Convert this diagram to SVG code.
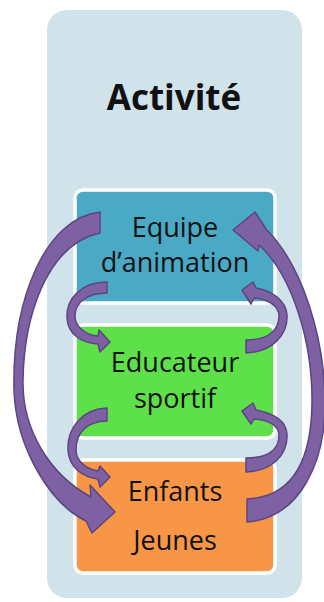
<svg xmlns="http://www.w3.org/2000/svg" width="324" height="602" viewBox="0 0 324 602">
<style>
.panel{fill:#d0e2ea}
.box{stroke:#ffffff;stroke-width:3.5}
.lbl{font-family:"Open Sans","Noto Sans",sans-serif;font-size:27px;fill:#111111;text-anchor:middle}
.title{font-family:"Open Sans","Noto Sans",sans-serif;font-size:35px;font-weight:bold;fill:#111111;text-anchor:middle}
.arr{fill:#7d61a3;stroke:#5c4581;stroke-width:1.5;stroke-linejoin:round}
</style>
<rect width="324" height="602" fill="#ffffff"/>
<g id="activite">
<rect class="panel" x="47" y="10" width="255" height="588" rx="20"/>
<text class="title" x="174" y="110">Activité</text>
</g>
<g id="equipe">
<rect class="box" x="75" y="190" width="200" height="113" rx="8" fill="#4aa9c4"/>
<text class="lbl" x="175" y="237">Equipe</text>
<text class="lbl" x="175" y="272">d’animation</text>
</g>
<g id="educateur">
<rect class="box" x="75" y="325" width="200" height="113" rx="8" fill="#5ee04a"/>
<text class="lbl" x="175" y="372">Educateur</text>
<text class="lbl" x="175" y="408">sportif</text>
</g>
<g id="enfants">
<rect class="box" x="75" y="460" width="200" height="113" rx="8" fill="#f79646"/>
<text class="lbl" x="175" y="501">Enfants</text>
<text class="lbl" x="175" y="550">Jeunes</text>
</g>
<g id="connectors">
<path class="arr" d="M100,212 C45,218 12,300 14,390 C16,450 52,505 86,521 L92,533 L115,512 L90,485 L91,497 C50,475 22,430 23,380 C24,320 45,245 100,233 Z"/>
<path class="arr" d="M247,522 C300,518 326,462 325,400 C324,335 302,265 266,229 L255,212 L233,230 L258,251 L259,245 C292,275 312,340 312,400 C312,462 292,497 247,499 Z"/>
<path class="arr" d="M107,282 C82,282 66,298 67,318 C68,335 82,343 98,344 L100,352 L110,342 L99,330 L98,336 C86,335 75,327 75,316 C75,302 88,293 107,293 Z"/>
<path class="arr" d="M107,408 C82,409 67,428 68,450 C69,468 83,477 98,479 L100,487 L110,477 L100,466 L98,471 C86,469 76,461 76,450 C76,432 88,421 107,421 Z"/>
<path class="arr" d="M246,353 C272,352 288,335 287,315 C286,300 272,291 256,288 L253,282 L242,290 L251,304 L254,298 C267,299 279,305 279,316 C279,332 266,340 246,340 Z"/>
<path class="arr" d="M246,472 C272,471 288,455 287,434 C286,420 272,413 256,410 L253,403 L242,411 L251,424 L254,419 C268,420 279,425 279,435 C279,451 266,458 246,458 Z"/>
</g>
</svg>
